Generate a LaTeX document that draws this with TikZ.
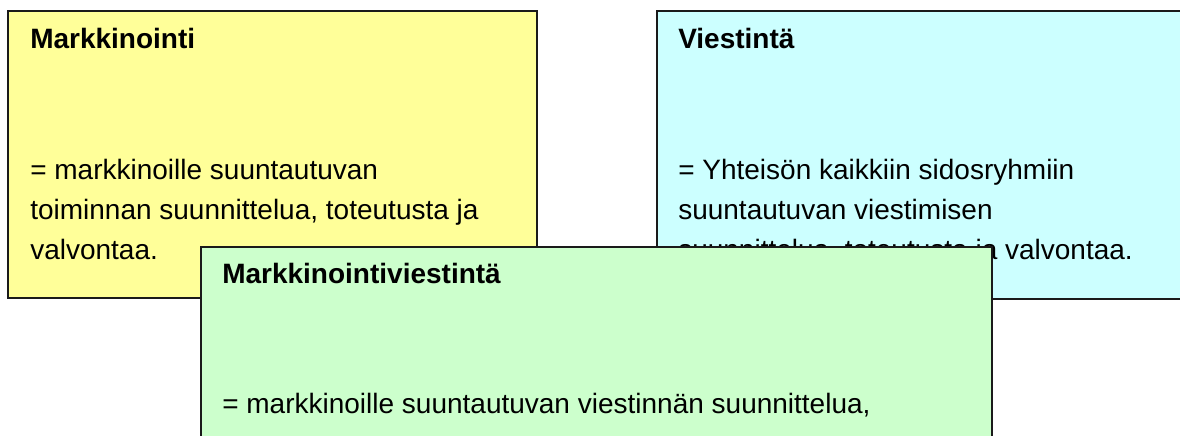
\documentclass[tikz,border=0pt]{standalone}
\usepackage{fontspec}
\setmainfont{Liberation Sans}
\definecolor{ybox}{HTML}{FFFF99}
\definecolor{cbox}{HTML}{CCFFFF}
\definecolor{gbox}{HTML}{CCFFCC}
\definecolor{edge}{HTML}{1A1A1A}
\tikzset{
  box/.style={draw=edge, line width=1.2pt, anchor=north west, inner sep=0pt, outer sep=0pt},
  ttl/.style={anchor=base west, inner sep=0pt, font=\bfseries\fontsize{21}{30}\selectfont},
  bodytext/.style={anchor=base west, inner sep=0pt, align=left, font=\fontsize{21}{30}\selectfont},
}
\begin{document}
\begin{tikzpicture}[x=0.75pt, y=-0.75pt]
\useasboundingbox (0,0) rectangle (1180,435);
\clip (0,0) rectangle (1180,435);
% yellow box
\node[box, fill=ybox, minimum width=396.75pt, minimum height=215.25pt] (mk) at (8,11) {};
\node[ttl] (mkt) at (30,49) {Markkinointi};
\node[bodytext] (mkb) at (30,259) {= markkinoille suuntautuvan\\toiminnan suunnittelua, toteutusta ja\\valvontaa.};
% cyan box
\node[box, fill=cbox, minimum width=400pt, minimum height=216pt] (vi) at (657,11) {};
\node[ttl] (vit) at (678,49) {Viestintä};
\node[bodytext] (vib) at (678,259) {= Yhteisön kaikkiin sidosryhmiin\\suuntautuvan viestimisen\\suunnittelua, toteutusta ja valvontaa.};
% green box
\node[box, fill=gbox, minimum width=593.25pt, minimum height=160pt] (mv) at (201,247) {};
\node[ttl] (mvt) at (222,283) {Markkinointiviestintä};
\node[bodytext] (mvb) at (222,413) {= markkinoille suuntautuvan viestinnän suunnittelua,};
\end{tikzpicture}
\end{document}
